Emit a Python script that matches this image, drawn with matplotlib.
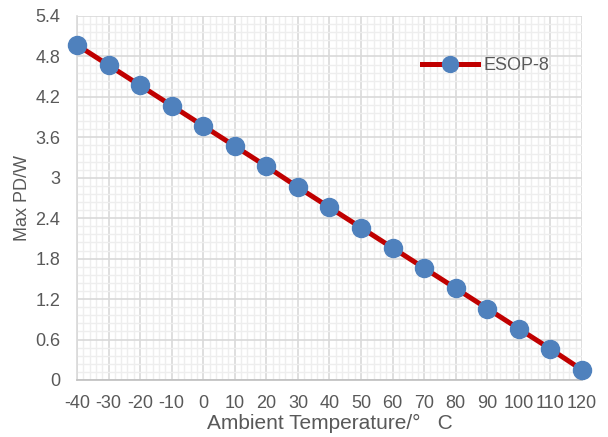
import matplotlib.pyplot as plt
from matplotlib.ticker import MultipleLocator
import numpy as np

plt.rcParams['font.family'] = ['Liberation Sans', 'DejaVu Sans']
plt.rcParams['axes.unicode_minus'] = False

# data
temps = [-40, -30, -20, -10, 0, 10, 20, 30, 40, 50, 60, 70, 80, 90, 100, 110, 120]
max_pd = [4.97, 4.67, 4.37, 4.07, 3.77, 3.47, 3.17, 2.86, 2.56, 2.26,
          1.96, 1.66, 1.36, 1.06, 0.76, 0.46, 0.15]
y_ticks = [0, 0.6, 1.2, 1.8, 2.4, 3, 3.6, 4.2, 4.8, 5.4]
y_labels = ['0', '0.6', '1.2', '1.8', '2.4', '3', '3.6', '4.2', '4.8', '5.4']

text_col = '#595959'

fig = plt.figure(figsize=(6.08, 4.37), dpi=100)
ax = fig.add_axes([77 / 608, 57 / 437, 505 / 608, 364 / 437])

ax.plot(temps, max_pd, color='#C00000', lw=3.6, marker='o', ms=13,
        mfc='#4F81BD', mec='#4F81BD', label='ESOP-8', zorder=3, clip_on=False)

ax.set_xlim(-40, 120)
ax.set_ylim(0, 5.4)
ax.xaxis.set_major_locator(MultipleLocator(10))
ax.xaxis.set_minor_locator(MultipleLocator(2))
ax.yaxis.set_minor_locator(MultipleLocator(0.12))
ax.set_yticks(y_ticks)
ax.set_yticklabels(y_labels)

ax.grid(which='major', color='#D9D9D9', lw=1.2, zorder=0)
ax.grid(which='minor', color='#EEEEEE', lw=1.0, zorder=0)
ax.set_axisbelow(True)

for s in ['top', 'right']:
    ax.spines[s].set_visible(False)
ax.spines['left'].set_color('#D9D9D9')
ax.spines['bottom'].set_color('#BFBFBF')
ax.spines['left'].set_linewidth(1.2)
ax.spines['bottom'].set_linewidth(1.2)

ax.tick_params(which='both', length=0, colors=text_col, labelsize=13)
ax.tick_params(axis='x', pad=11)
ax.tick_params(axis='y', pad=12)

ax.set_xlabel('Ambient Temperature/°   C', color=text_col, fontsize=15, labelpad=1)
ax.set_ylabel('Max PD/W', color=text_col, fontsize=13, labelpad=3)

leg = ax.legend(loc='center left', bbox_to_anchor=(422 / 608, 1 - 66 / 437),
                bbox_transform=fig.transFigure, frameon=False,
                fontsize=13, handlelength=3.1, handletextpad=0.3,
                borderpad=0, borderaxespad=0, markerscale=0.88)
for t in leg.get_texts():
    t.set_color(text_col)

fig.savefig('out.png', dpi=100)
